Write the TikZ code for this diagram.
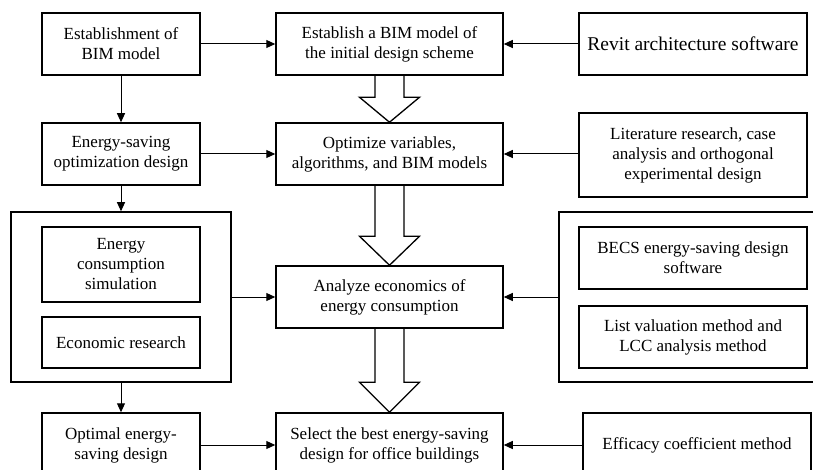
\documentclass[tikz,border=0pt]{standalone}
\usepackage{fontspec}
\setmainfont{Liberation Serif}
\usetikzlibrary{arrows.meta,calc}
\tikzset{
  box/.style={draw, line width=1.5pt, align=center, inner sep=2pt,
    font=\fontsize{17}{20}\selectfont},
  conn/.style={line width=1pt, -{Triangle[length=9pt,width=8pt]}},
  hollow/.style={line width=1.3pt, line join=miter},
}
\newcommand{\hollowarr}[3]{%
  \draw[hollow] ($(#1.south)+(-14.5,0)$) -- ($(#2.north)+(-14.5,-#3)$)
    -- ($(#2.north)+(-30,-#3)$) -- (#2.north) -- ($(#2.north)+(30,-#3)$)
    -- ($(#2.north)+(14.5,-#3)$) -- ($(#1.south)+(14.5,0)$);}
\begin{document}
\begin{tikzpicture}[x=1pt,y=-1pt]
\useasboundingbox[fill=white] (0,0) rectangle (813,470);
\clip (0,0) rectangle (813,470);
% left column
\node[box, minimum width=158pt, minimum height=62pt] (A) at (121,44) {Establishment of\\BIM model};
\node[box, minimum width=158pt, minimum height=62pt] (D) at (121,154) {Energy-saving\\optimization design};
\node[box, minimum width=220pt, minimum height=170pt] (G) at (121,297) {};
\node[box, minimum width=158pt, minimum height=75pt] (G1) at (121,264.5) {Energy\\consumption\\simulation};
\node[box, minimum width=158pt, minimum height=51pt] (G2) at (121,342.5) {Economic research};
\node[box, minimum width=158pt, minimum height=64pt] (J) at (121,445) {Optimal energy-\\saving design};
% middle column
\node[box, minimum width=227pt, minimum height=62pt] (B) at (389.5,44) {Establish a BIM model of\\the initial design scheme};
\node[box, minimum width=227pt, minimum height=62pt] (E) at (389.5,154) {Optimize variables,\\algorithms, and BIM models};
\node[box, minimum width=227pt, minimum height=62pt] (H) at (389.5,297) {Analyze economics of\\energy consumption};
\node[box, minimum width=227pt, minimum height=64pt] (K) at (389.5,445) {Select the best energy-saving\\design for office buildings};
% right column
\node[box, minimum width=228pt, minimum height=62pt, font=\fontsize{19.5}{22}\selectfont] (C) at (693,44) {Revit architecture software};
\node[box, minimum width=228pt, minimum height=84pt] (F) at (693,155) {Literature research, case\\analysis and orthogonal\\experimental design};
\node[box, minimum width=271pt, minimum height=170pt] (I) at (694.5,297) {};
\node[box, minimum width=228pt, minimum height=62pt] (I1) at (693,258) {BECS energy-saving design\\software};
\node[box, minimum width=228pt, minimum height=62pt] (I2) at (693,337) {List valuation method and\\LCC analysis method};
\node[box, minimum width=228pt, minimum height=64pt] (L) at (697,445) {Efficacy coefficient method};
% connectors
\draw[conn] (A) -- (B);
\draw[conn] (C) -- (B);
\draw[conn] (A) -- (D);
\draw[conn] (D) -- (E);
\draw[conn] (F.west |- E.east) -- (E.east);
\draw[conn] (D) -- (G);
\draw[conn] (G) -- (H);
\draw[conn] (I) -- (H);
\draw[conn] (G) -- (J);
\draw[conn] (J) -- (K);
\draw[conn] (L) -- (K);
% hollow arrows
\hollowarr{B}{E}{25}
\hollowarr{E}{H}{29}
\hollowarr{H}{K}{30}
\end{tikzpicture}
\end{document}
